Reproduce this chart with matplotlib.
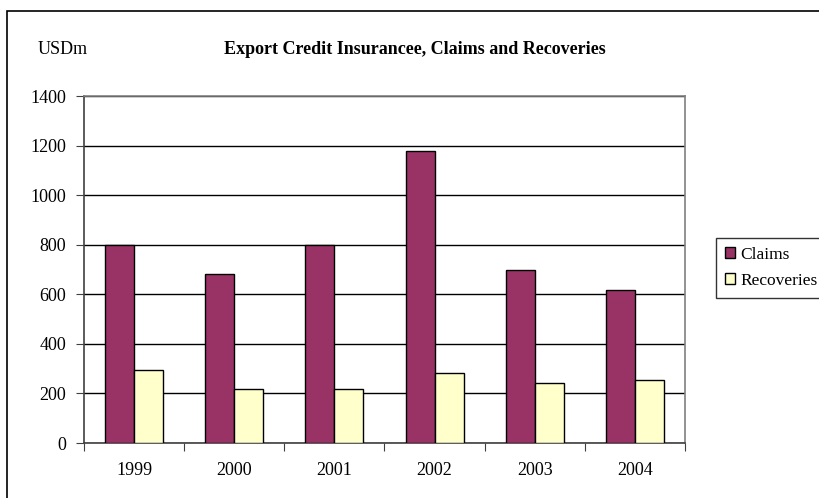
import numpy as np
import matplotlib
matplotlib.use("Agg")
import matplotlib.pyplot as plt
from matplotlib.patches import Rectangle

years = ["1999", "2000", "2001", "2002", "2003", "2004"]
claims = [800, 680, 800, 1178, 696, 619]
recoveries = [295, 218, 218, 283, 243, 255]

plt.rcParams['font.family'] = ['Liberation Serif', 'DejaVu Serif']

W, H = 819, 498
fig = plt.figure(figsize=(W / 100, H / 100), dpi=100)

# outer chart border (right and bottom run off the picture)
fig.patches.append(Rectangle((7 / W, -0.05), 1.1, 1 - 11 / H + 0.05,
                             transform=fig.transFigure, fill=False,
                             edgecolor='black', linewidth=1.2))

ax = fig.add_axes([84 / W, 1 - 443 / H, (685 - 84) / W, (443 - 96) / H])

x = np.arange(len(years))
bw = 0.29
ax.bar(x - bw / 2, claims, bw, color='#993366', edgecolor='black',
       linewidth=1, label='Claims', zorder=3)
ax.bar(x + bw / 2, recoveries, bw, color='#FFFFCC', edgecolor='black',
       linewidth=1, label='Recoveries', zorder=3)

ax.set_xlim(-0.5, len(years) - 0.5)
ax.set_ylim(0, 1400)
ax.set_yticks(range(0, 1401, 200))
ax.yaxis.grid(True, color='black', linewidth=1)
ax.set_axisbelow(True)

# ticks at the category boundaries, labels in the middle
ax.set_xticks(np.arange(len(years) + 1) - 0.5)
ax.set_xticklabels([])
ax.set_xticks(x, minor=True)
ax.set_xticklabels(years, minor=True, fontsize=13)
ax.tick_params(axis='x', which='minor', length=0, pad=14)
ax.tick_params(axis='x', which='major', direction='out', length=6, color='#404040')
ax.tick_params(axis='y', direction='out', length=6, labelsize=13, color='#404040', pad=7)

for s in ['top', 'right']:
    ax.spines[s].set_color('#808080')
for s in ['left', 'bottom']:
    ax.spines[s].set_color('#404040')
for s in ax.spines.values():
    s.set_linewidth(1.2)

fig.text(38 / W, 1 - 50 / H, 'USDm', fontsize=13, va='center', ha='left')
fig.text(415 / W, 1 - 49 / H, 'Export Credit Insurancee, Claims and Recoveries',
         fontsize=13, fontweight='bold', va='center', ha='center')

leg = fig.legend(loc='upper left', bbox_to_anchor=(716 / W, 1 - 238 / H),
                 fontsize=12.5, frameon=True, fancybox=False, borderpad=0.5,
                 handlelength=0.6, handleheight=0.6, handletextpad=0.3,
                 labelspacing=0.6, borderaxespad=0)
leg.get_frame().set_edgecolor('black')
leg.get_frame().set_linewidth(1)

fig.savefig('out.png', dpi=100)
